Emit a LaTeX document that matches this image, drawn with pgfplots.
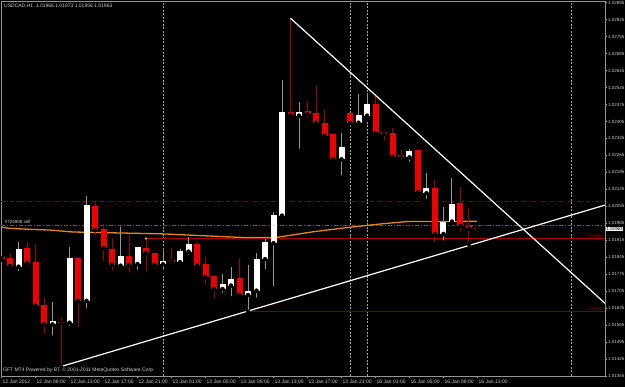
\documentclass[border=0pt]{standalone}
\usepackage{fontspec}
\setmainfont{Liberation Sans}
\usepackage{pgfplots}
\usepackage{pgfplotstable}
\pgfplotsset{compat=1.18}

\definecolor{bullwick}{RGB}{150,150,150}
\definecolor{bearwick}{RGB}{165,0,0}
\definecolor{bearbody}{RGB}{240,0,0}
\definecolor{maline}{RGB}{230,135,20}
\definecolor{framegray}{RGB}{150,150,150}
\definecolor{txtgray}{RGB}{205,205,205}
\definecolor{dashred}{RGB}{140,0,0}
\definecolor{dashgreen}{RGB}{0,150,0}
\definecolor{lvlred}{RGB}{170,0,0}
\definecolor{lvldark}{RGB}{125,0,0}
\definecolor{sepgray}{RGB}{165,165,165}

% i open high low close (USDCAD H1, bar index from 12 Jan 05:00)
\pgfplotstableread{
i o h l c
0 1.01846 1.01850 1.01834 1.01838
1 1.01841 1.01864 1.01802 1.01809
3 1.01883 1.01907 1.01799 1.01822
4 1.01825 1.01900 1.01641 1.01645
5 1.01648 1.01676 1.01521 1.01568
7 1.01579 1.01600 1.01394 1.01574
9 1.01841 1.01842 1.01552 1.01665
11 1.02058 1.02077 1.01926 1.01957
12 1.01962 1.01982 1.01822 1.01882
13 1.01879 1.01923 1.01781 1.01814
15 1.01851 1.01937 1.01772 1.01813
17 1.01883 1.01919 1.01779 1.01863
18 1.01861 1.01863 1.01795 1.01814
20 1.01834 1.01882 1.01820 1.01827
23 1.01900 1.01909 1.01809 1.01810
24 1.01816 1.01847 1.01724 1.01762
25 1.01768 1.01768 1.01669 1.01714
28 1.01758 1.01841 1.01678 1.01689
34 1.02445 1.02831 1.02415 1.02432
36 1.02448 1.02490 1.02411 1.02435
37 1.02441 1.02551 1.02388 1.02400
38 1.02400 1.02452 1.02338 1.02346
39 1.02352 1.02352 1.02250 1.02250
41 1.02441 1.02441 1.02398 1.02398
44 1.02476 1.02514 1.02356 1.02356
45 1.02360 1.02360 1.02318 1.02353
46 1.02356 1.02377 1.02243 1.02260
47 1.02268 1.02287 1.02239 1.02257
49 1.02287 1.02287 1.02106 1.02113
51 1.02132 1.02164 1.01898 1.01940
54 1.02068 1.02136 1.01941 1.01974
55 1.01974 1.02047 1.01898 1.01964
56 1.01966 1.01973 1.01956 1.01963
}\bear

\pgfplotstableread{
i o h l c
2 1.01806 1.01907 1.01779 1.01880
6 1.01568 1.01659 1.01513 1.01582
8 1.01575 1.01886 1.01552 1.01841
10 1.01665 1.02099 1.01625 1.02061
14 1.01810 1.01969 1.01809 1.01850
16 1.01817 1.01887 1.01785 1.01887
19 1.01816 1.01868 1.01785 1.01830
21 1.01824 1.01879 1.01824 1.01871
22 1.01868 1.01927 1.01847 1.01900
26 1.01714 1.01776 1.01689 1.01733
27 1.01728 1.01806 1.01676 1.01755
29 1.01689 1.01813 1.01620 1.01707
30 1.01707 1.01861 1.01669 1.01838
31 1.01837 1.01919 1.01788 1.01907
32 1.01903 1.02033 1.01717 1.02019
33 1.02016 1.02576 1.02016 1.02445
35 1.02429 1.02487 1.02284 1.02443
40 1.02249 1.02359 1.02173 1.02299
42 1.02400 1.02518 1.02391 1.02432
43 1.02429 1.02521 1.02411 1.02477
48 1.02257 1.02292 1.02230 1.02283
50 1.02109 1.02194 1.02077 1.02132
52 1.01941 1.02054 1.01905 1.01992
53 1.01992 1.02171 1.01985 1.02063
}\bull

\pgfplotstableread{
i ma
-0.06 1.01969
1.00 1.01964
3.35 1.01960
5.71 1.01957
8.41 1.01949
13.94 1.01945
19.24 1.01941
21.59 1.01937
24.18 1.01933
26.65 1.01929
28.65 1.01926
32.18 1.01926
34.29 1.01937
36.65 1.01950
40.61 1.01967
44.53 1.01982
47.67 1.01992
55.94 1.01993
}\maline

\begin{document}
\begin{tikzpicture}
\fill[black] (0,0) rectangle (625pt,387pt);
\begin{axis}[
  at={(1pt,11pt)}, anchor=south west,
  scale only axis, width=604pt, height=375pt,
  xmin=-0.06, xmax=71.0,
  ymin=1.01355, ymax=1.02902,
  axis line style={draw=framegray, line width=0.8pt},
  tick style={draw=framegray, line width=0.6pt},
  tick align=outside,
  major tick length=2.5pt,
  xtick pos=left, ytick pos=right, yticklabel pos=right,
  scaled y ticks=false,
  /pgf/number format/assume math mode=true,
  ticklabel style={font=\fontsize{5}{6}\selectfont, text=txtgray},
  xtick={0,4,8,12,16,20,24,28,32,36,40,44,48,52,56},
  xticklabels={12 Jan 2012,12 Jan 09:00,12 Jan 13:00,12 Jan 17:00,12 Jan 21:00,13 Jan 01:00,13 Jan 05:00,13 Jan 09:00,13 Jan 13:00,13 Jan 17:00,13 Jan 21:00,16 Jan 01:00,16 Jan 05:00,16 Jan 09:00,16 Jan 13:00},
  xticklabel style={anchor=north west, inner sep=0pt, xshift=1pt, yshift=-1pt},
  ytick={1.01355,1.01425,1.01495,1.01565,1.01635,1.01705,1.01775,1.01845,1.01915,1.01985,1.02055,1.02125,1.02195,1.02265,1.02335,1.02405,1.02475,1.02545,1.02615,1.02685,1.02755,1.02825,1.02895},
  yticklabels={1.01355,1.01425,1.01495,1.01565,1.01635,1.01705,1.01775,1.01845,1.01915,1.01985,1.02055,1.02125,1.02195,1.02265,1.02335,1.02405,1.02475,1.02545,1.02615,1.02685,1.02755,1.02825,1.02895},
  yticklabel style={anchor=west, inner sep=0pt, xshift=0.5pt, font=\fontsize{4.5}{5}\selectfont},
]
% period separators
\addplot[sepgray, line width=0.7pt, dash pattern=on 2pt off 1.5pt, forget plot] coordinates {(19,1.01355) (19,1.02902)};
\addplot[sepgray, line width=0.7pt, dash pattern=on 2pt off 1.5pt, forget plot] coordinates {(41,1.01355) (41,1.02902)};
\addplot[sepgray, line width=0.7pt, dash pattern=on 2pt off 1.5pt, forget plot] coordinates {(43,1.01355) (43,1.02902)};
\addplot[sepgray, line width=0.7pt, dash pattern=on 2pt off 1.5pt, forget plot] coordinates {(67,1.01355) (67,1.02902)};
% horizontal levels
\addplot[dashred, line width=0.8pt, dash pattern=on 4pt off 2pt on 1pt off 2pt, forget plot] coordinates {(-0.06,1.02076) (71,1.02076)};
\addplot[dashgreen, line width=0.8pt, dash pattern=on 4pt off 2pt on 1pt off 2pt, forget plot] coordinates {(-0.06,1.01978) (71,1.01978)};
\addplot[lvlred, line width=0.8pt, forget plot] coordinates {(17,1.01922) (71,1.01922)};
\addplot[lvldark, line width=1.2pt, forget plot] coordinates {(29,1.01622) (71,1.01622)};
% moving average
\addplot[maline, line width=1.3pt, forget plot] table[x=i, y=ma] {\maline};
% wicks
\addplot[only marks, mark=none, forget plot,
  error bars/.cd, y dir=plus, y explicit, error mark=none,
  error bar style={line width=1pt, draw=bullwick}]
  table[x=i, y=l, y error plus expr={\thisrow{h}-\thisrow{l}}] {\bull};
\addplot[only marks, mark=none, forget plot,
  error bars/.cd, y dir=plus, y explicit, error mark=none,
  error bar style={line width=1pt, draw=bearwick}]
  table[x=i, y=l, y error plus expr={\thisrow{h}-\thisrow{l}}] {\bear};
% bodies
\addplot[only marks, mark=none, forget plot,
  error bars/.cd, y dir=plus, y explicit, error mark=none,
  error bar style={line width=6pt, draw=white}]
  table[x=i, y=o, y error plus expr={\thisrow{c}-\thisrow{o}}] {\bull};
\addplot[only marks, mark=none, forget plot,
  error bars/.cd, y dir=plus, y explicit, error mark=none,
  error bar style={line width=6pt, draw=bearbody}]
  table[x=i, y=c, y error plus expr={\thisrow{o}-\thisrow{c}}] {\bear};
% trend lines
\addplot[white, line width=1.2pt, forget plot] coordinates {(7,1.01394) (71,1.02060)};
\addplot[white, line width=1.2pt, forget plot] coordinates {(34,1.02831) (71,1.01655)};
% order marker
\addplot[only marks, mark=*, mark size=0.9pt, color=txtgray, forget plot] coordinates {(17,1.01922)};
% labels inside
\node[anchor=south west, inner sep=0.5pt, text=txtgray, font=\fontsize{4.5}{5}\selectfont] at (axis cs:0.3,1.01980) {\#724908 sell};
\node[anchor=south east, inner sep=0.5pt, text=lvlred, font=\fontsize{4.5}{5}\selectfont] at (axis cs:70.8,1.01924) {1.01922};
\node[anchor=south east, inner sep=0.5pt, text=lvlred, font=\fontsize{4.5}{5}\selectfont] at (axis cs:70.8,1.01624) {1.01622};
\coordinate (cp) at (axis cs:71,1.01963);
\end{axis}
\node[anchor=west, fill=white, text=black, inner sep=0.5pt, font=\fontsize{4.4}{5}\selectfont] at ([xshift=1pt]cp) {1.01963};
\node[anchor=west, inner sep=0pt, text=txtgray, font=\fontsize{5}{6}\selectfont] at (4pt,381pt) {USDCAD,H1\ \ 1.01966 1.01973 1.01956 1.01963};
\node[anchor=west, inner sep=0pt, text=txtgray, font=\fontsize{5}{6}\selectfont] at (3pt,17pt) {GFT MT4 Powered by BT, © 2001-2011 MetaQuotes Software Corp.};
\pgfresetboundingbox
\path[use as bounding box] (0,0) rectangle (625pt,387pt);
\end{tikzpicture}
\end{document}
